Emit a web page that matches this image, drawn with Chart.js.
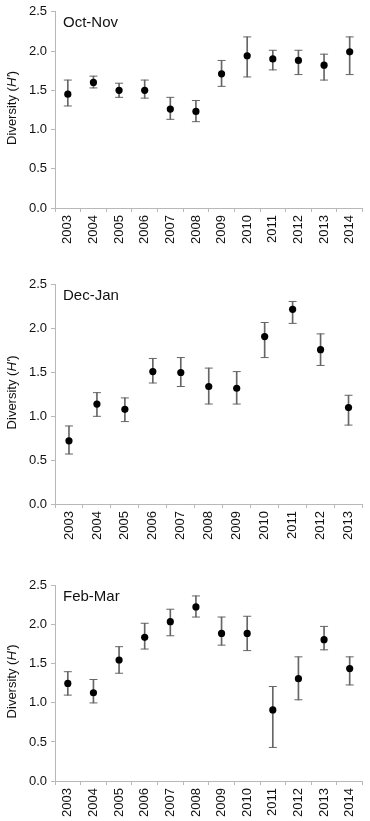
<!DOCTYPE html>
<html>
<head>
<meta charset="utf-8">
<script src="https://cdn.jsdelivr.net/npm/chart.js@4"></script>
<style>
  body { margin: 0; background: #fff; }
  .panel { position: absolute; left: 0; width: 370px; }
</style>
</head>
<body>
<div class="panel" style="top:0px;height:248px"><canvas id="c1" width="370" height="248"></canvas></div>
<div class="panel" style="top:273px;height:271px"><canvas id="c2" width="370" height="271"></canvas></div>
<div class="panel" style="top:574px;height:247px"><canvas id="c3" width="370" height="247"></canvas></div>
<script>
// years on the x axis
const yearsA = ['2003', '2004', '2005', '2006', '2007', '2008', '2009', '2010', '2011', '2012', '2013', '2014'];
const yearsB = ['2003', '2004', '2005', '2006', '2007', '2008', '2009', '2010', '2011', '2012', '2013'];
const yTicks = [0, 0.5, 1, 1.5, 2, 2.5];

// Oct-Nov
const octNovMean = [1.45, 1.60, 1.50, 1.50, 1.26, 1.23, 1.71, 1.94, 1.90, 1.88, 1.82, 1.99];
const octNovLow  = [1.30, 1.53, 1.41, 1.40, 1.13, 1.10, 1.55, 1.67, 1.76, 1.70, 1.63, 1.70];
const octNovHigh = [1.63, 1.68, 1.59, 1.63, 1.41, 1.37, 1.88, 2.18, 2.01, 2.01, 1.96, 2.18];

// Dec-Jan
const decJanMean = [0.72, 1.14, 1.08, 1.51, 1.50, 1.34, 1.32, 1.91, 2.22, 1.76, 1.10];
const decJanLow  = [0.57, 1.00, 0.94, 1.38, 1.34, 1.14, 1.14, 1.67, 2.06, 1.58, 0.90];
const decJanHigh = [0.89, 1.27, 1.21, 1.66, 1.67, 1.55, 1.51, 2.07, 2.31, 1.94, 1.24];

// Feb-Mar
const febMarMean = [1.25, 1.13, 1.55, 1.84, 2.04, 2.23, 1.89, 1.89, 0.91, 1.31, 1.81, 1.44];
const febMarLow  = [1.10, 1.00, 1.38, 1.69, 1.86, 2.10, 1.74, 1.67, 0.43, 1.04, 1.68, 1.23];
const febMarHigh = [1.40, 1.30, 1.72, 2.02, 2.20, 2.37, 2.10, 2.11, 1.21, 1.59, 1.98, 1.59];

const FONT = "'Liberation Sans', Arial, sans-serif";
Chart.defaults.font.family = FONT;
Chart.defaults.color = '#111';

const errColor = '#666';
const axisColor = '#b8b8b8';

// panel name inside the plot + y title with italic H'
const textPlugin = {
  id: 'panelText',
  afterDraw(chart, args, opts) {
    const ctx = chart.ctx;
    const a = chart.chartArea;
    ctx.save();
    ctx.fillStyle = '#111';
    ctx.textBaseline = 'middle';
    ctx.textAlign = 'left';
    ctx.font = '15px ' + FONT;
    ctx.fillText(opts.label, a.left + 8, a.top + 11);

    // y axis title
    const parts = [
      ['Diversity (', '13px ' + FONT],
      ["H'", 'italic 13px ' + FONT],
      [')', '13px ' + FONT]
    ];
    let total = 0;
    parts.forEach(p => { ctx.font = p[1]; total += ctx.measureText(p[0]).width; });
    ctx.translate(12, (a.top + a.bottom) / 2 - 2);
    ctx.rotate(-Math.PI / 2);
    let x = -total / 2;
    parts.forEach(p => {
      ctx.font = p[1];
      ctx.fillText(p[0], x, 0);
      x += ctx.measureText(p[0]).width;
    });
    ctx.restore();
  }
};

function makePanel(id, label, years, mean, low, high) {
  new Chart(document.getElementById(id), {
    type: 'bar',
    data: {
      labels: years,
      datasets: [
        {
          type: 'bar',
          data: low.map((l, i) => [l, high[i]]),
          backgroundColor: errColor,
          barThickness: 1,
          grouped: false,
          order: 3
        },
        {
          type: 'line',
          data: high,
          showLine: false,
          pointStyle: 'line',
          pointRadius: 4,
          pointBorderColor: errColor,
          pointBorderWidth: 1,
          order: 2
        },
        {
          type: 'line',
          data: low,
          showLine: false,
          pointStyle: 'line',
          pointRadius: 4,
          pointBorderColor: errColor,
          pointBorderWidth: 1,
          order: 2
        },
        {
          type: 'line',
          data: mean,
          showLine: false,
          pointRadius: 3.6,
          pointBackgroundColor: '#000',
          pointBorderColor: '#000',
          pointBorderWidth: 0,
          order: 1
        }
      ]
    },
    options: {
      responsive: false,
      animation: false,
      layout: { padding: { top: 9, right: 7.5, left: 0, bottom: 0 } },
      plugins: {
        legend: { display: false },
        tooltip: { enabled: false },
        panelText: { label: label }
      },
      scales: {
        x: {
          offset: true,
          grid: { offset: true, drawOnChartArea: false, tickLength: 4, color: axisColor },
          border: { color: axisColor },
          ticks: { autoSkip: false, minRotation: 90, maxRotation: 90, padding: 3, font: { size: 13 } },
          afterFit(scale) { scale.height = 40; }
        },
        y: {
          min: 0,
          max: 2.5,
          afterBuildTicks(scale) { scale.ticks = yTicks.map(v => ({ value: v })); },
          grid: { drawOnChartArea: false, tickLength: 4, color: axisColor },
          border: { color: axisColor },
          ticks: { padding: 4, font: { size: 13 }, callback: v => v.toFixed(1) },
          afterFit(scale) { scale.width = 55; }
        }
      }
    },
    plugins: [textPlugin]
  });
}

makePanel('c1', 'Oct-Nov', yearsA, octNovMean, octNovLow, octNovHigh);
makePanel('c2', 'Dec-Jan', yearsB, decJanMean, decJanLow, decJanHigh);
makePanel('c3', 'Feb-Mar', yearsA, febMarMean, febMarLow, febMarHigh);
</script>
</body>
</html>
